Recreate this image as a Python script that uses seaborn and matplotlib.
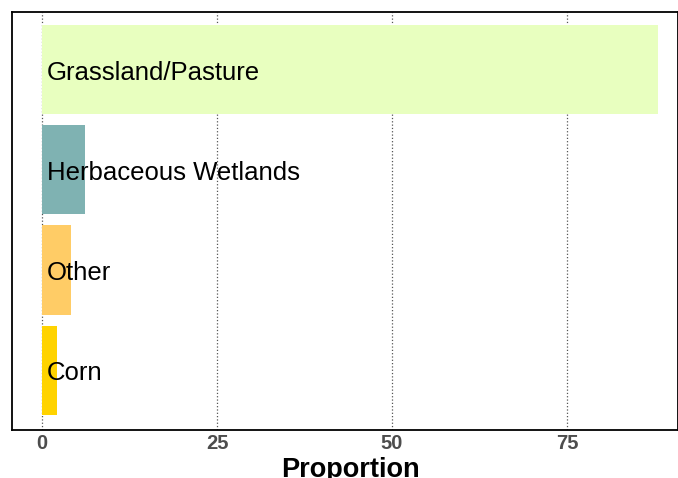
import seaborn as sns
import matplotlib.pyplot as plt
import pandas as pd

# land cover classes, top to bottom
classes = ['Grassland/Pasture', 'Herbaceous Wetlands', 'Other', 'Corn']
proportion = [88.0, 6.1, 4.1, 2.1]
colours = ['#e8ffbf', '#7fb2b2', '#ffcc66', '#ffd300']
x_ticks = [0, 25, 50, 75]

df = pd.DataFrame({'Class': classes, 'Proportion': proportion})

sns.set_style('white')
plt.rcParams['font.family'] = ['Liberation Sans', 'DejaVu Sans']

fig = plt.figure(figsize=(6.78, 4.78), dpi=100)
ax = fig.add_axes([12 / 678, 1 - 430 / 478, 666 / 678, 418 / 478])

sns.barplot(data=df, y='Class', x='Proportion', hue='Class', palette=colours,
            order=classes, width=0.89, legend=False, ax=ax, saturation=1,
            linewidth=0)

for i, name in enumerate(classes):
    ax.text(0.7, i + 0.03, name, va='center', ha='left', fontsize=18.5, color='black')

ax.set_xlim(-4.29, 90.86)
ax.set_ylim(3.6, -0.58)
ax.set_xticks(x_ticks)
ax.set_xticklabels([str(t) for t in x_ticks], fontsize=14.5, fontweight='bold', color='#4d4d4d')
ax.set_yticks([])
ax.set_ylabel('')
ax.set_xlabel('Proportion', fontsize=19.5, fontweight='bold', color='black')
ax.xaxis.set_label_coords(0.5075, -0.0655, transform=ax.transAxes)
ax.xaxis.label.set_va('top')
ax.tick_params(axis='x', length=0, pad=3)
ax.set_axisbelow(True)
ax.grid(axis='x', linestyle=':', color='#555555', linewidth=0.9)
for side in ['top', 'bottom', 'left', 'right']:
    ax.spines[side].set_visible(True)
    ax.spines[side].set_color('black')
    ax.spines[side].set_linewidth(1.3)

fig.savefig('out.png', dpi=100)
